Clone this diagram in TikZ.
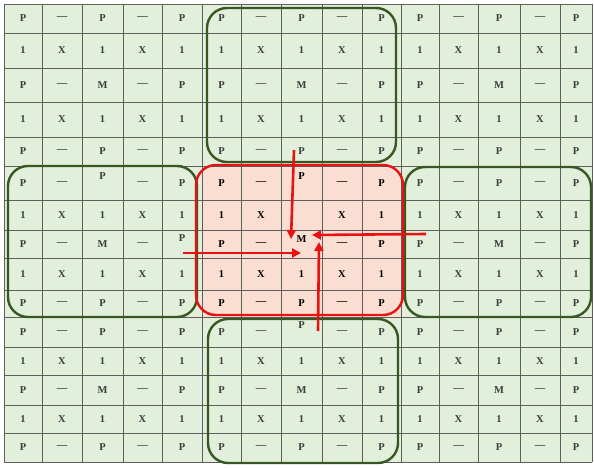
\documentclass[tikz,border=0pt]{standalone}
\usepackage{fontspec}
\setmainfont{Liberation Serif}
\usetikzlibrary{arrows.meta}
\definecolor{bggreen}{RGB}{226,239,218}
\definecolor{bgpink}{RGB}{250,222,210}
\definecolor{boxgreen}{RGB}{56,87,35}
\definecolor{boxred}{RGB}{232,18,18}
\definecolor{gridc}{RGB}{95,95,95}
\definecolor{txt}{RGB}{60,60,60}
\begin{document}
\begin{tikzpicture}[x=1pt,y=-1pt,
  lbl/.style={font=\fontsize{10.5}{12}\selectfont\bfseries, inner sep=0pt},
  gbox/.style={draw=boxgreen, line width=2.4pt, rounded corners=20pt},
  rbox/.style={draw=boxred, line width=2.4pt, rounded corners=20pt},
  arr/.style={draw=boxred, line width=2.6pt, -{Triangle[length=9pt,width=9pt]}},
  gridline/.style={draw=gridc, line width=0.9pt}]
\useasboundingbox (0,0) rectangle (594,468);
\fill[white] (0,0) rectangle (594,468);
\fill[bggreen] (4,4) rectangle (592,462);
\fill[bgpink] (202,166) rectangle (401,317);
\def\colx{{4,42,82,123,162,202,241,281,322,362,401,439,478,520,560,592}}
\def\rowy{{4,33,68,102,137,166,200,230,258,290,317,347,375,405,433,462}}
\foreach \i in {0,...,15} {
  \pgfmathsetmacro\xx{\colx[\i]}
  \draw[gridline] (\xx,4) -- (\xx,462);
  \pgfmathsetmacro\yy{\rowy[\i]}
  \draw[gridline] (4,\yy) -- (592,\yy);
}
\foreach \r in {0,...,14} {
  \foreach \c in {0,...,14} {
    \pgfmathtruncatemacro\rr{mod(\r,5)}
    \pgfmathtruncatemacro\cc{mod(\c,5)}
    \pgfmathtruncatemacro\re{mod(\rr,2)}
    \pgfmathtruncatemacro\ce{mod(\cc,2)}
    \ifnum\re=0 \ifnum\ce=0 \def\lab{P}\else\def\lab{---}\fi
    \else \ifnum\ce=0 \def\lab{1}\else\def\lab{X}\fi\fi
    \ifnum\rr=2 \ifnum\cc=2 \def\lab{M}\fi\fi
    \def\tc{txt}
    \ifnum\r>4 \ifnum\r<10 \ifnum\c>4 \ifnum\c<10 \def\tc{black}\fi\fi\fi\fi
    \def\dy{0}
    \ifnum\r=5 \ifnum\c=2 \def\dy{-7}\fi \ifnum\c=7 \def\dy{-7}\fi\fi
    \ifnum\r=7 \ifnum\c=4 \def\dy{-6}\fi \ifnum\c=7 \def\dy{-5}\fi\fi
    \ifnum\r=10 \ifnum\c=7 \def\dy{-7}\fi\fi
    \ifnum\r=6 \ifnum\c=7 \def\lab{}\fi\fi
    \pgfmathtruncatemacro\cn{\c+1}
    \pgfmathtruncatemacro\rn{\r+1}
    \pgfmathsetmacro\xa{\colx[\c]}
    \pgfmathsetmacro\xb{\colx[\cn]}
    \pgfmathsetmacro\ya{\rowy[\r]}
    \pgfmathsetmacro\yb{\rowy[\rn]}
    \pgfmathsetmacro\cx{(\xa+\xb)/2}
    \pgfmathsetmacro\cy{(\ya+\yb)/2+\dy}
    \node[lbl, text=\tc] (n\r-\c) at (\cx,\cy) {\lab};
  }
}
% green boxes
\draw[gbox] (207,8) rectangle (396,162);
\draw[gbox] (8,166) rectangle (197,317);
\draw[gbox] (405,167) rectangle (591,317);
\draw[gbox] (208,319) rectangle (398,463);
% red box
\draw[rbox] (196,165) rectangle (403,315);
% arrows
\coordinate (tS) at (294,150);
\coordinate (tE) at (291,239);
\coordinate (rS) at (426,234);
\coordinate (rE) at (312,235);
\coordinate (lS) at (183,253);
\coordinate (lE) at (301,253);
\coordinate (bS) at (318,331);
\coordinate (bE) at (319,242);
\draw[arr] (tS) -- (tE);
\draw[arr] (rS) -- (rE);
\draw[arr] (lS) -- (lE);
\draw[arr] (bS) -- (bE);
\end{tikzpicture}
\end{document}
